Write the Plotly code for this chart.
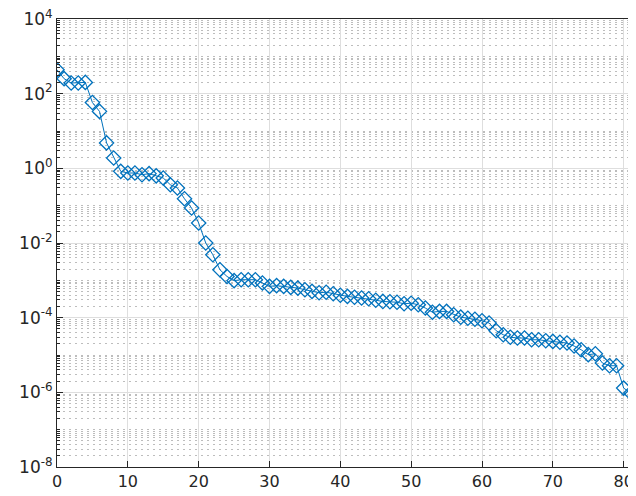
import plotly.graph_objects as go

iteration = list(range(83))
residual = [
    438, 252, 193, 193, 200, 58, 33.5, 4.8, 1.89, 0.83,
    0.75, 0.75, 0.675, 0.72, 0.63, 0.55, 0.364, 0.297, 0.153, 0.0865,
    0.0343, 0.0100, 0.00485, 0.00192, 0.00127, 0.00098, 0.00104, 0.00104, 0.00104, 0.00085,
    0.00069, 0.00072, 0.00069, 0.00065, 0.00062, 0.00056, 0.000505, 0.000466, 0.00048, 0.000438,
    0.000399, 0.000371, 0.000352, 0.000336, 0.000321, 0.000293, 0.000272, 0.000267, 0.000259, 0.000236,
    0.000244, 0.000222, 0.000181, 0.000140, 0.000147, 0.000147, 0.000120, 0.000103, 9.66e-5, 9.08e-5,
    8.28e-5, 7.18e-5, 4.47e-5, 3.49e-5, 2.99e-5, 2.85e-5, 2.85e-5, 2.56e-5, 2.56e-5, 2.41e-5,
    2.31e-5, 2.20e-5, 2.09e-5, 1.74e-5, 1.38e-5, 1.02e-5, 1.08e-5, 6.1e-6, 5.16e-6, 5.16e-6,
    1.30e-6, 9.6e-7, 7.2e-7,
]

x_ticks = [0, 10, 20, 30, 40, 50, 60, 70, 80]
y_exponents = [-8, -6, -4, -2, 0, 2, 4]
y_ticks = [10.0 ** e for e in y_exponents]
y_ticktext = ["10<sup>%d</sup>" % e for e in y_exponents]
y_minor = [m * 10.0 ** d for d in range(-8, 4) for m in range(1, 10) if not (m == 1 and d % 2 == 0)]

blue = "#0072BD"

fig = go.Figure()
fig.add_trace(go.Scatter(
    x=iteration, y=residual, mode="lines+markers",
    line=dict(color=blue, width=1),
    marker=dict(symbol="diamond-open", size=11, color=blue, line=dict(width=1.3, color=blue)),
    showlegend=False,
))

# the page body has an 8px margin, so the figure is sized to fit the window
fig.update_layout(
    width=628, height=488,
    margin=dict(l=49, r=0, t=11, b=29),
    paper_bgcolor="white", plot_bgcolor="white",
    font=dict(family="DejaVu Sans", size=17, color="#262626"),
)
fig.update_xaxes(
    range=[0, 81.74], tickvals=x_ticks, ticks="inside", ticklen=6, tickcolor="#262626",
    showline=True, linecolor="#262626", linewidth=1, mirror=True,
    showgrid=True, gridcolor="#dedede", gridwidth=1, zeroline=False,
    ticklabeloverflow="allow", tickfont=dict(size=16),
)
fig.update_yaxes(
    type="log", range=[-8, 4], tickvals=y_ticks, ticktext=y_ticktext,
    ticks="inside", ticklen=6, tickcolor="#262626",
    showline=True, linecolor="#262626", linewidth=1,
    showgrid=True, gridcolor="#dedede", gridwidth=1, zeroline=False,
    ticklabeloverflow="allow", tickfont=dict(size=17),
    minor=dict(tickvals=y_minor, ticks="inside", ticklen=3, tickcolor="#262626",
               showgrid=True, gridcolor="#bdbdbd", griddash="2px,4px", gridwidth=1),
)

fig.write_html("out.html")
